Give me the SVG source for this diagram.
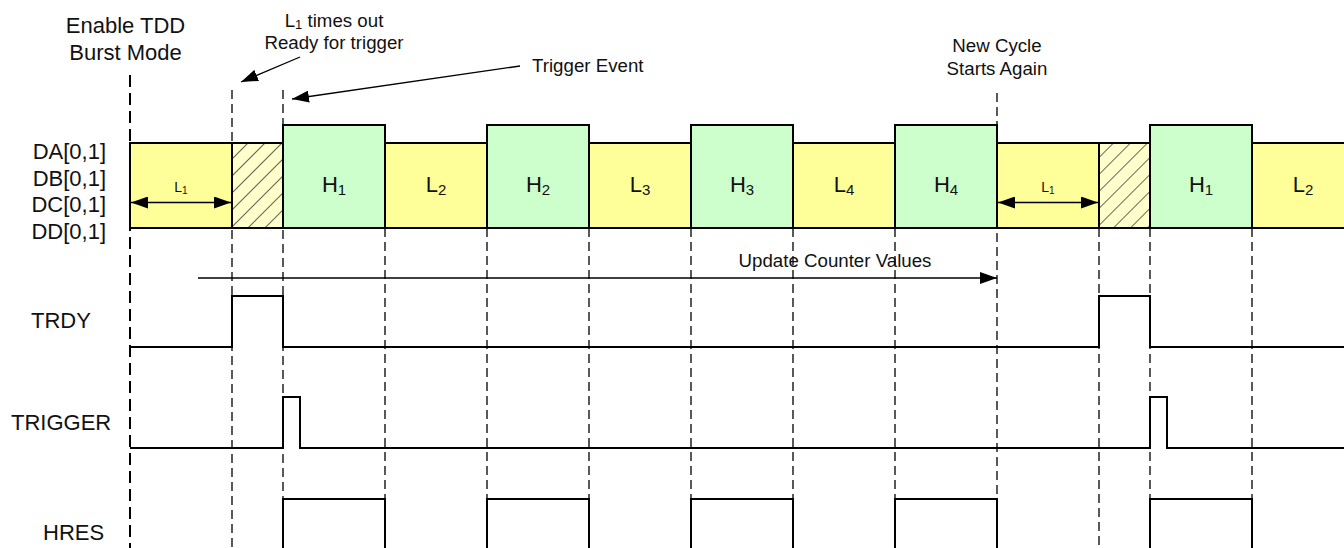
<svg xmlns="http://www.w3.org/2000/svg" width="1344" height="548" viewBox="0 0 1344 548">
<style>
text{font-family:"Liberation Sans",Arial,sans-serif;fill:#111}
.sig{font-size:22px}
.ann{font-size:18.7px}
.lbl{font-size:22px;text-anchor:middle}
.sub{font-size:15px}
.dash{stroke:#000;stroke-width:1.3;stroke-dasharray:9,5;fill:none}
.dashk{stroke:#000;stroke-width:2;stroke-dasharray:12,6;fill:none}
.wave{stroke:#000;stroke-width:2;fill:none}
.lo{fill:#FFFF99;stroke:#000;stroke-width:2}
.hi{fill:#CCFFCC;stroke:#000;stroke-width:2}
.ht{fill:url(#hatch);stroke:#000;stroke-width:2}
.arr{stroke:#000;stroke-width:1.3;fill:none}
</style>
<defs>
<pattern id="hatch" patternUnits="userSpaceOnUse" width="12" height="12" patternTransform="rotate(45)">
<rect width="12" height="12" fill="#FFFFCC"/>
<line x1="0" y1="0" x2="0" y2="12" stroke="#000" stroke-width="1.2"/>
</pattern>
<marker id="ah" markerUnits="userSpaceOnUse" markerWidth="18" markerHeight="12" refX="17" refY="6" orient="auto-start-reverse">
<path d="M0,0 L17,6 L0,12 Z" fill="#000"/>
</marker>
</defs>

<g id="guides">
<line class="dashk" x1="130" y1="75" x2="130" y2="548"/>
<line class="dash" x1="232" y1="90" x2="232" y2="548"/>
<line class="dash" x1="283" y1="90" x2="283" y2="548"/>
<line class="dash" x1="385" y1="228" x2="385" y2="548"/>
<line class="dash" x1="487" y1="228" x2="487" y2="548"/>
<line class="dash" x1="589" y1="228" x2="589" y2="548"/>
<line class="dash" x1="691" y1="228" x2="691" y2="548"/>
<line class="dash" x1="793" y1="228" x2="793" y2="548"/>
<line class="dash" x1="895" y1="228" x2="895" y2="548"/>
<line class="dash" x1="997" y1="93" x2="997" y2="548"/>
<line class="dash" x1="1099" y1="228" x2="1099" y2="548"/>
<line class="dash" x1="1150" y1="228" x2="1150" y2="548"/>
<line class="dash" x1="1252" y1="228" x2="1252" y2="548"/>
</g>

<g id="band">
<rect class="lo" x="130" y="143" width="102" height="85"/>
<rect class="ht" x="232" y="143" width="51" height="85"/>
<rect class="hi" x="283" y="125" width="102" height="103"/>
<rect class="lo" x="385" y="143" width="102" height="85"/>
<rect class="hi" x="487" y="125" width="102" height="103"/>
<rect class="lo" x="589" y="143" width="102" height="85"/>
<rect class="hi" x="691" y="125" width="102" height="103"/>
<rect class="lo" x="793" y="143" width="102" height="85"/>
<rect class="hi" x="895" y="125" width="102" height="103"/>
<rect class="lo" x="997" y="143" width="102" height="85"/>
<rect class="ht" x="1099" y="143" width="51" height="85"/>
<rect class="hi" x="1150" y="125" width="102" height="103"/>
<rect class="lo" x="1252" y="143" width="100" height="85"/>
</g>

<g id="band-labels">
<text class="lbl" x="334" y="192">H<tspan class="sub" dy="3">1</tspan></text>
<text class="lbl" x="436" y="192">L<tspan class="sub" dy="3">2</tspan></text>
<text class="lbl" x="538" y="192">H<tspan class="sub" dy="3">2</tspan></text>
<text class="lbl" x="640" y="192">L<tspan class="sub" dy="3">3</tspan></text>
<text class="lbl" x="742" y="192">H<tspan class="sub" dy="3">3</tspan></text>
<text class="lbl" x="844" y="192">L<tspan class="sub" dy="3">4</tspan></text>
<text class="lbl" x="946" y="192">H<tspan class="sub" dy="3">4</tspan></text>
<text class="lbl" x="1201" y="192">H<tspan class="sub" dy="3">1</tspan></text>
<text class="lbl" x="1303" y="192">L<tspan class="sub" dy="3">2</tspan></text>
<text x="181" y="191.5" font-size="14" text-anchor="middle">L<tspan font-size="10" dy="2">1</tspan></text>
<text x="1048" y="191.5" font-size="14" text-anchor="middle">L<tspan font-size="10" dy="2">1</tspan></text>
</g>

<g id="signal-labels" class="sig">
<text x="106" y="159" text-anchor="end">DA[0,1]</text>
<text x="106" y="185.5" text-anchor="end">DB[0,1]</text>
<text x="106" y="212" text-anchor="end">DC[0,1]</text>
<text x="106" y="238.5" text-anchor="end">DD[0,1]</text>
<text x="31" y="328">TRDY</text>
<text x="11" y="430">TRIGGER</text>
<text x="43" y="540">HRES</text>
</g>

<g id="trdy"><path class="wave" d="M130,347 H232 V296 H283 V347 H1099 V296 H1150 V347 H1344"/></g>
<g id="trigger"><path class="wave" d="M130,448 H283 V397 H300 V448 H1150 V397 H1167 V448 H1344"/></g>
<g id="hres"><path class="wave" d="M283,550 V499 H385 V550 M487,550 V499 H589 V550 M691,550 V499 H793 V550 M895,550 V499 H997 V550 M1150,550 V499 H1252 V550"/></g>

<g id="annotations" class="ann">
<text x="125.5" y="33" font-size="22" text-anchor="middle">Enable TDD</text>
<text x="125.5" y="60" font-size="22" text-anchor="middle">Burst Mode</text>
<text x="334" y="26.5" text-anchor="middle">L<tspan font-size="13" dy="2">1</tspan><tspan dy="-2"> times out</tspan></text>
<text x="334" y="48.5" text-anchor="middle">Ready for trigger</text>
<text x="532" y="72">Trigger Event</text>
<text x="997" y="51.5" text-anchor="middle">New Cycle</text>
<text x="997" y="75" text-anchor="middle">Starts Again</text>
<text x="835" y="267" text-anchor="middle">Update Counter Values</text>
</g>

<g id="connectors">
<line class="arr" x1="300" y1="57" x2="241" y2="82" marker-end="url(#ah)"/>
<line class="arr" x1="520" y1="66" x2="292" y2="99" marker-end="url(#ah)"/>
<line class="arr" x1="198" y1="278" x2="997" y2="278" marker-end="url(#ah)"/>
<line class="arr" x1="131" y1="202.5" x2="231" y2="202.5" marker-start="url(#ah)" marker-end="url(#ah)"/>
<line class="arr" x1="998" y1="202.5" x2="1098" y2="202.5" marker-start="url(#ah)" marker-end="url(#ah)"/>
</g>
</svg>
